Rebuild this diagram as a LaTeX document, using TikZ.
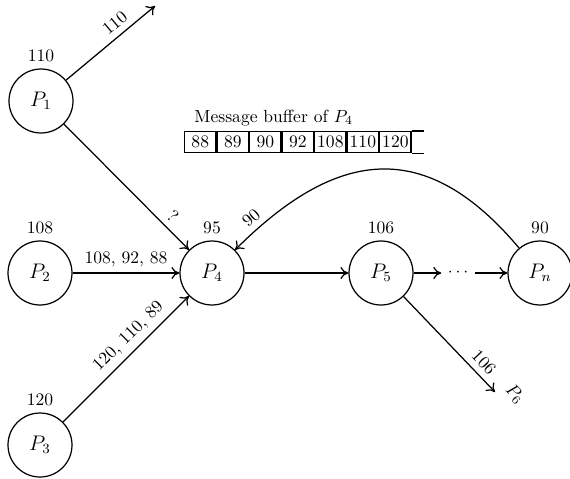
\documentclass[tikz,border=0pt]{standalone}
\usepackage{xcolor}
\usepackage{tikz}
\usetikzlibrary{arrows.meta, positioning}

\begin{document}
\begin{tikzpicture}[
                x=0.02cm, y=0.02cm,
                line width=0.7pt,
                proc/.style={circle, draw, minimum size=1.28cm, inner sep=0pt, font=\large},
                cell/.style={draw, minimum width=0.626cm, minimum height=0.42cm, inner sep=0pt}
            ]
                \useasboundingbox (0,0) rectangle (570,478);

                % Nodes
                \node[proc, label=above:110] (P1) at (41,377) {$P_1$};
                \node[proc, label=above:108] (P2) at (40,205) {$P_2$};
                \node[proc, label=above:120] (P3) at (40,33) {$P_3$};
                \node[proc, label=above:95] (P4) at (212,205) {$P_4$};
                \node[proc, label=above:106] (P5) at (381,205) {$P_5$};
                \node[proc, label=above:90] (Pn) at (540,205) {$P_n$};
                \node (dots) at (458,205) {$\cdots$};
                \node[rotate=-46] (P6) at (515,84) {$P_6$};
                \coordinate (o1) at (155,472);
                \coordinate (o6) at (495,86);

                % Message buffer
                \node[anchor=base west] (bufname) at (188,356) {Message buffer of $P_4$};
                \node[cell, anchor=north west] (b1) at (184,347) {88};
                \node[cell, right=0pt of b1] (b2) {89};
                \node[cell, right=0pt of b2] (b3) {90};
                \node[cell, right=0pt of b3] (b4) {92};
                \node[cell, right=0pt of b4] (b5) {108};
                \node[cell, right=0pt of b5] (b6) {110};
                \node[cell, right=0pt of b6] (b7) {120};
                \draw (b7.north east) -- ++(12,0) (b7.south east) -- ++(12,0);

                % Edges
                \path[-{To[length=1.6mm, width=2.4mm]}]
                    (P1) edge node[above, sloped, pos=.64] {110} (o1)
                    (P1) edge node[above, sloped, pos=.8] {?} (P4)
                    (P2) edge node[above] {108, 92, 88} (P4)
                    (P3) edge node[above, sloped, pos=.6] {120, 110, 89} (P4)
                    (P4) edge (P5)
                    (P5) edge (dots)
                    (dots) edge (Pn)
                    (P5) edge node[above, sloped, pos=.78] {106} (o6)
                    (Pn) edge[out=130, in=45, looseness=1.3] node[above, sloped, pos=.92] {90} (P4);
            \end{tikzpicture}
\end{document}
